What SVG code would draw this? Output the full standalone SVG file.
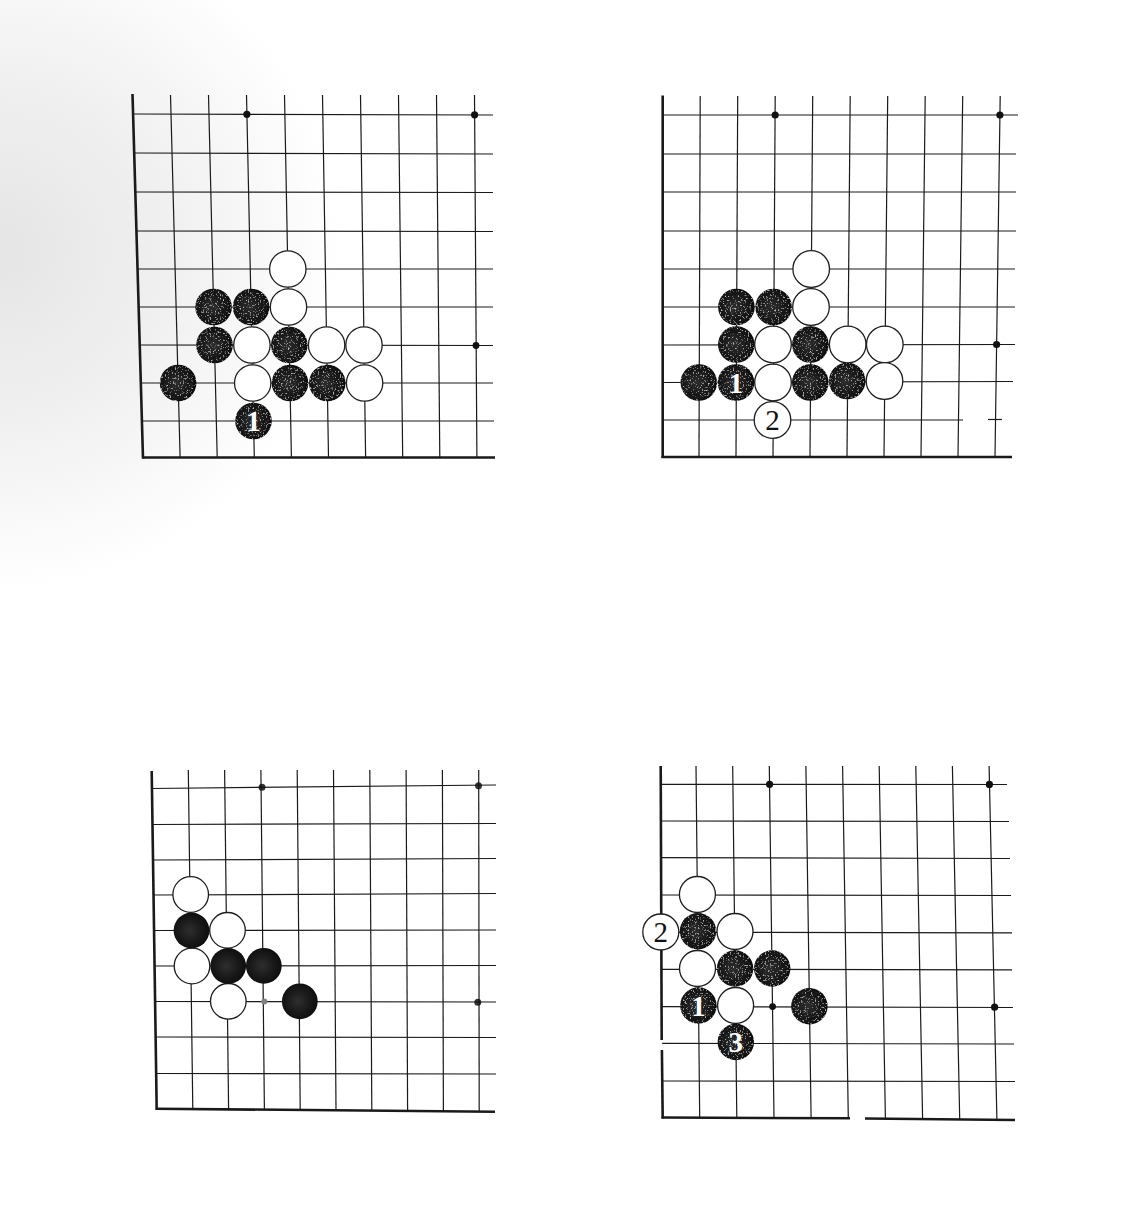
<svg xmlns="http://www.w3.org/2000/svg" width="1128" height="1210" viewBox="0 0 1128 1210">
<defs>
<radialGradient id="bg" gradientUnits="userSpaceOnUse" cx="0" cy="250" r="340">
<stop offset="0" stop-color="#e5e5e5"/>
<stop offset="0.5" stop-color="#f0f0f0"/>
<stop offset="1" stop-color="#ffffff"/>
</radialGradient>
<radialGradient id="blk" cx="0.45" cy="0.5" r="0.6">
<stop offset="0" stop-color="#2e2e2e"/>
<stop offset="0.6" stop-color="#171717"/>
<stop offset="1" stop-color="#0b0b0b"/>
</radialGradient>
<filter id="speck" x="0" y="0" width="1" height="1">
<feTurbulence type="fractalNoise" baseFrequency="0.6" numOctaves="2" seed="4" result="n"/>
<feColorMatrix in="n" type="matrix" values="0 0 0 0 1  0 0 0 0 1  0 0 0 0 1  2.2 0 0 0 -1.3" result="s"/>
<feComposite in="s" in2="SourceAlpha" operator="in" result="sp"/>
<feMerge><feMergeNode in="SourceGraphic"/><feMergeNode in="sp"/></feMerge>
</filter>
</defs>
<style>
.g line{stroke:#1a1a1a;stroke-width:1.2;fill:none}
.g line.e{stroke-width:2.6}
.w{fill:#ffffff;stroke:#1e1e1e;stroke-width:1.3}
.b{fill:url(#blk)}
.star{fill:#111}
.n{font-family:"Liberation Serif","Times New Roman",serif;font-size:29px;text-anchor:middle}
.nw{fill:#ffffff;font-weight:bold}
.nb{fill:#111}
</style>
<rect width="1128" height="1210" fill="#ffffff"/>
<rect width="1128" height="1210" fill="url(#bg)"/>

<g id="board1">
<g class="g">
<line x1="170.5" y1="95" x2="180.1" y2="457"/>
<line x1="208.5" y1="95" x2="217.2" y2="457"/>
<line x1="246.5" y1="95" x2="254.3" y2="457"/>
<line x1="284.5" y1="95" x2="291.4" y2="457"/>
<line x1="322.5" y1="95" x2="328.5" y2="457"/>
<line x1="360.5" y1="95" x2="365.6" y2="457"/>
<line x1="398.5" y1="95" x2="402.7" y2="457"/>
<line x1="436.5" y1="95" x2="439.8" y2="457"/>
<line x1="474.5" y1="95" x2="476.9" y2="457"/>
<line x1="133" y1="114" x2="493" y2="115"/>
<line x1="134.2" y1="153" x2="493" y2="154"/>
<line x1="135.3" y1="192" x2="493" y2="192.5"/>
<line x1="136.4" y1="231" x2="493" y2="231.5"/>
<line x1="137.5" y1="269" x2="493" y2="269"/>
<line x1="138.6" y1="307" x2="493" y2="307"/>
<line x1="139.8" y1="345" x2="493" y2="345.5"/>
<line x1="140.9" y1="383" x2="493" y2="383"/>
<line x1="142" y1="421" x2="494" y2="421"/>
<line class="e" x1="132.5" y1="94" x2="143" y2="458.5"/>
<line class="e" x1="142" y1="457.5" x2="495" y2="457.5"/>
</g>
<circle class="star" cx="246.9" cy="114.3" r="3.6"/>
<circle class="star" cx="474.6" cy="114.8" r="3.6"/>
<circle class="star" cx="476" cy="345.5" r="3.4"/>
<g class="stones">
<circle class="w" cx="287.8" cy="269" r="18.2"/>
<circle class="w" cx="288.5" cy="307" r="18.2"/>
<circle class="w" cx="251.9" cy="345" r="18.2"/>
<circle class="w" cx="326.6" cy="345" r="18.2"/>
<circle class="w" cx="364" cy="345" r="18.2"/>
<circle class="w" cx="252.7" cy="383" r="18.2"/>
<circle class="w" cx="364.6" cy="383" r="18.2"/>
<g filter="url(#speck)">
<circle class="b" cx="213.6" cy="307" r="18.3"/>
<circle class="b" cx="251.1" cy="307" r="18.3"/>
<circle class="b" cx="214.5" cy="345" r="18.3"/>
<circle class="b" cx="289.3" cy="345" r="18.3"/>
<circle class="b" cx="178.1" cy="383" r="18.3"/>
<circle class="b" cx="290" cy="383" r="18.3"/>
<circle class="b" cx="327.3" cy="383" r="18.3"/>
<circle class="b" cx="253.5" cy="421" r="18.3"/>
</g>
<text class="n nw" x="253.5" y="431">1</text>
</g>
</g>

<g id="board2">
<g class="g">
<line x1="700.2" y1="96" x2="699" y2="457"/>
<line x1="737.7" y1="96" x2="736" y2="457"/>
<line x1="775.2" y1="96" x2="773" y2="457"/>
<line x1="812.7" y1="96" x2="810" y2="457"/>
<line x1="850.2" y1="96" x2="847" y2="457"/>
<line x1="887.7" y1="96" x2="884" y2="457"/>
<line x1="925.2" y1="96" x2="921" y2="457"/>
<line x1="962.7" y1="96" x2="958" y2="457"/>
<line x1="1000.2" y1="96" x2="995" y2="457"/>
<line x1="662.7" y1="115" x2="1018" y2="115"/>
<line x1="662.7" y1="154" x2="1016" y2="154"/>
<line x1="662.7" y1="192" x2="1016" y2="192"/>
<line x1="662.7" y1="231" x2="1016" y2="231"/>
<line x1="662.7" y1="269" x2="1015" y2="269"/>
<line x1="662.7" y1="307" x2="1015" y2="307"/>
<line x1="662.7" y1="345" x2="1015" y2="344.5"/>
<line x1="662.7" y1="382.5" x2="1013" y2="381.5"/>
<line x1="662.7" y1="420" x2="963" y2="420"/>
<line x1="988" y1="419.5" x2="1002" y2="419.5"/>
<line class="e" x1="662.7" y1="95.5" x2="662.7" y2="458"/>
<line class="e" x1="661.5" y1="457" x2="1012" y2="457"/>
</g>
<circle class="star" cx="775.2" cy="115" r="3.6"/>
<circle class="star" cx="999.9" cy="115" r="3.6"/>
<circle class="star" cx="996.6" cy="344.5" r="3.6"/>
<g class="stones">
<circle class="w" cx="811.2" cy="269" r="18.3"/>
<circle class="w" cx="811" cy="307" r="18.3"/>
<circle class="w" cx="773" cy="344.5" r="18.3"/>
<circle class="w" cx="847.7" cy="344.5" r="18.3"/>
<circle class="w" cx="884.8" cy="344.5" r="18.3"/>
<circle class="w" cx="773" cy="382.5" r="18.3"/>
<circle class="w" cx="884.5" cy="381" r="18.3"/>
<circle class="w" cx="772.5" cy="420" r="18.3"/>
<g filter="url(#speck)">
<circle class="b" cx="736.4" cy="307" r="18.3"/>
<circle class="b" cx="773.6" cy="307" r="18.3"/>
<circle class="b" cx="736.3" cy="344.5" r="18.3"/>
<circle class="b" cx="810.4" cy="344.5" r="18.3"/>
<circle class="b" cx="698.8" cy="382.5" r="18.3"/>
<circle class="b" cx="736" cy="382.5" r="18.3"/>
<circle class="b" cx="810.3" cy="382.5" r="18.3"/>
<circle class="b" cx="847.2" cy="381" r="18.3"/>
</g>
<text class="n nw" x="736" y="392.5">1</text>
<text class="n nb" x="772.5" y="430">2</text>
</g>
</g>

<g id="board3">
<g class="g">
<line x1="188.3" y1="770" x2="192.8" y2="1109.5"/>
<line x1="224.6" y1="770" x2="228.6" y2="1109.5"/>
<line x1="260.9" y1="770" x2="264.4" y2="1110"/>
<line x1="297.2" y1="770" x2="300.2" y2="1110"/>
<line x1="333.5" y1="770" x2="336" y2="1110"/>
<line x1="369.8" y1="770" x2="371.8" y2="1110.5"/>
<line x1="406.1" y1="770" x2="407.6" y2="1110.5"/>
<line x1="442.4" y1="770" x2="443.4" y2="1111"/>
<line x1="478.7" y1="770" x2="479.2" y2="1111"/>
<line x1="151.9" y1="788.5" x2="496" y2="785"/>
<line x1="152.5" y1="824.5" x2="496" y2="823.5"/>
<line x1="153" y1="860" x2="496" y2="858.5"/>
<line x1="153.5" y1="895" x2="496" y2="893.5"/>
<line x1="154.1" y1="930.5" x2="496" y2="930"/>
<line x1="154.6" y1="966" x2="496" y2="965.5"/>
<line x1="155.1" y1="1001.5" x2="496" y2="1002"/>
<line x1="155.6" y1="1037" x2="496" y2="1037.5"/>
<line x1="156.2" y1="1073.5" x2="496" y2="1074"/>
<line class="e" x1="151.7" y1="771" x2="156.7" y2="1110"/>
<line class="e" x1="155.7" y1="1108.7" x2="495" y2="1111.7"/>
</g>
<circle class="star" cx="262" cy="787.3" r="3.5" fill-opacity="0.85"/>
<circle class="star" cx="478.5" cy="785.8" r="3.5" fill-opacity="0.85"/>
<circle class="star" cx="477.8" cy="1002.2" r="3.5" fill-opacity="0.85"/>
<circle cx="264.3" cy="1001.5" r="3" fill="#808080"/>
<g class="stones">
<circle class="w" cx="190.7" cy="894.5" r="17.8"/>
<circle class="w" cx="227.5" cy="930.3" r="17.8"/>
<circle class="w" cx="192" cy="966" r="17.8"/>
<circle class="w" cx="228.3" cy="1001.3" r="17.8"/>
<circle class="b" cx="191.5" cy="930.5" r="17.9"/>
<circle class="b" cx="228.2" cy="966" r="17.9"/>
<circle class="b" cx="263.8" cy="965.8" r="17.9"/>
<circle class="b" cx="299.8" cy="1001.3" r="17.9"/>
</g>
</g>

<g id="board4">
<g class="g">
<line x1="696" y1="766" x2="699.7" y2="1117.5"/>
<line x1="732.7" y1="766" x2="736.8" y2="1117.5"/>
<line x1="769.3" y1="766" x2="774" y2="1118"/>
<line x1="805.9" y1="766" x2="811.1" y2="1118"/>
<line x1="842.6" y1="766" x2="848.3" y2="1118"/>
<line x1="879.2" y1="766" x2="885.4" y2="1118.5"/>
<line x1="915.8" y1="766" x2="922.6" y2="1118.5"/>
<line x1="952.4" y1="766" x2="959.7" y2="1119"/>
<line x1="989.1" y1="766" x2="996.9" y2="1119.5"/>
<line x1="660.8" y1="784.3" x2="1007" y2="784.5"/>
<line x1="661" y1="821" x2="1009" y2="821.5"/>
<line x1="661.2" y1="857.7" x2="1010" y2="858.5"/>
<line x1="661.4" y1="895" x2="1011" y2="895.5"/>
<line x1="661.6" y1="932.3" x2="1012" y2="932.8"/>
<line x1="661.8" y1="969.3" x2="1012" y2="969.8"/>
<line x1="662" y1="1006.7" x2="1013" y2="1007.5"/>
<line x1="662.2" y1="1043.3" x2="1014" y2="1044"/>
<line x1="662.4" y1="1081" x2="1015" y2="1081.5"/>
<line class="e" x1="660.7" y1="766" x2="661.7" y2="1040"/>
<line class="e" x1="661.9" y1="1050" x2="662.7" y2="1118.5"/>
<line class="e" x1="661.5" y1="1117.5" x2="850" y2="1118.3"/>
<line class="e" x1="865" y1="1118.5" x2="1015" y2="1120"/>
</g>
<circle class="star" cx="769.6" cy="784.3" r="3.6"/>
<circle class="star" cx="989.4" cy="784.4" r="3.6"/>
<circle class="star" cx="994.6" cy="1007.2" r="3.6"/>
<circle class="star" cx="772.6" cy="1006.6" r="3.4"/>
<g class="stones">
<circle class="w" cx="697.4" cy="894.5" r="18"/>
<circle class="w" cx="660.8" cy="932" r="18"/>
<circle class="w" cx="735" cy="931.5" r="18"/>
<circle class="w" cx="697.5" cy="968.5" r="18"/>
<circle class="w" cx="735.6" cy="1005.5" r="18"/>
<g filter="url(#speck)">
<circle class="b" cx="698" cy="931.2" r="18.2"/>
<circle class="b" cx="735.1" cy="968.5" r="18.2"/>
<circle class="b" cx="772.2" cy="968.5" r="18.2"/>
<circle class="b" cx="698.4" cy="1005.5" r="18.2"/>
<circle class="b" cx="809.4" cy="1006.2" r="18.2"/>
<circle class="b" cx="735.8" cy="1042" r="18.2"/>
</g>
<text class="n nb" x="660.8" y="942">2</text>
<text class="n nw" x="698.4" y="1015.5">1</text>
<text class="n nw" x="735.8" y="1052">3</text>
</g>
</g>
</svg>
